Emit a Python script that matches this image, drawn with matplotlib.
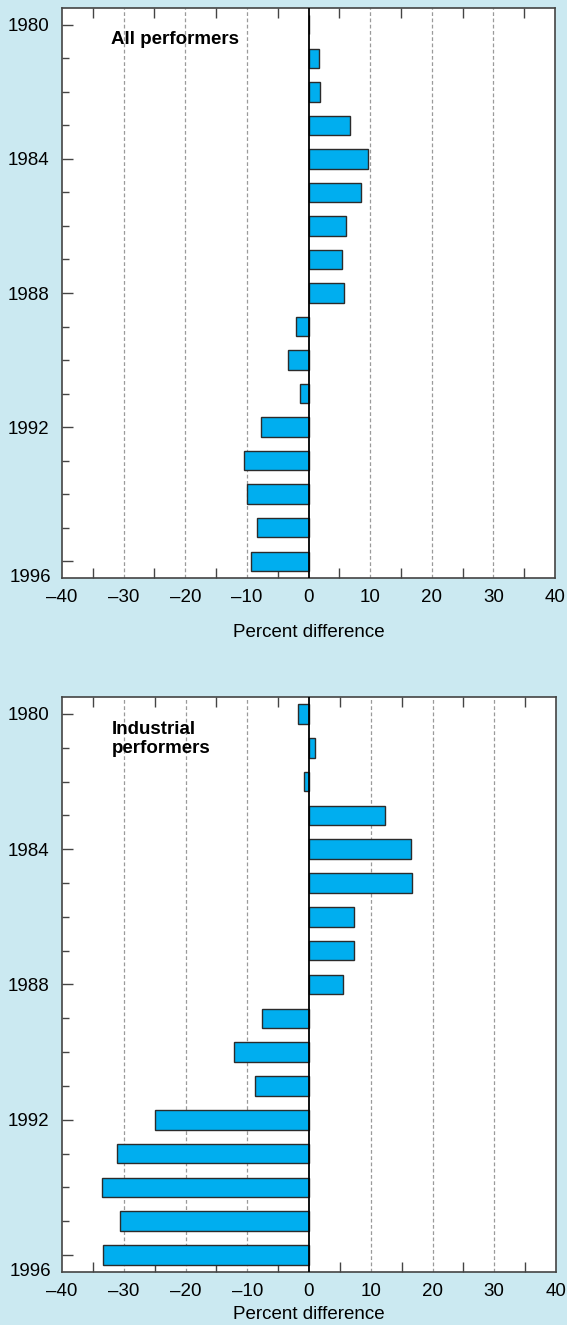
import matplotlib
matplotlib.use('Agg')
import matplotlib.pyplot as plt
from matplotlib.ticker import FixedLocator

# ---- data ----
years = list(range(1980, 1997))
all_performers = [0.1, 1.7, 1.9, 6.8, 9.7, 8.6, 6.1, 5.5, 5.7,
                  -2.0, -3.4, -1.4, -7.7, -10.5, -10.0, -8.3, -9.3]
industrial_performers = [-1.8, 0.9, -0.8, 12.3, 16.5, 16.7, 7.3, 7.3, 5.5,
                         -7.6, -12.1, -8.8, -24.9, -31.1, -33.6, -30.6, -33.3]
x_ticks = [-40, -30, -20, -10, 0, 10, 20, 30, 40]
x_tick_labels = ['\u201340', '\u201330', '\u201320', '\u201310', '0', '10', '20', '30', '40']
x_minor = [-35, -25, -15, -5, 5, 15, 25, 35]
grid_x = [-30, -20, -10, 10, 20, 30]
y_tick_years = [1980, 1984, 1988, 1992, 1996]
y_tick_labels = ['1980', '1984', '1988', '1992', '']
panel_titles = ['All performers', 'Industrial\nperformers']
x_label = 'Percent difference'

plt.rcParams['font.family'] = ['Liberation Sans', 'DejaVu Sans']

BG = '#cbe9f1'
BAR = '#00aeef'
EDGE = '#2b2b2b'
SPINE = '#444444'
FS = 13.5

W, H = 567, 1325
fig = plt.figure(figsize=(W / 100, H / 100), dpi=100, facecolor=BG)

panels = [
    (all_performers, [62, 8, 555, 578], panel_titles[0], 13),
    (industrial_performers, [62, 697, 556, 1272], panel_titles[1], 4),
]

for values, (l, t, r, b), title, lpad in panels:
    ax = fig.add_axes([l / W, 1 - b / H, (r - l) / W, (b - t) / H])
    ax.set_facecolor('white')
    ax.set_xlim(-40, 40)
    ax.set_ylim(1996.5, 1979.5)

    for gx in grid_x:
        ax.axvline(gx, color='#9a9a9a', lw=0.9, ls=(0, (3, 2)), zorder=1)

    ax.barh(years, values, height=0.58, color=BAR, edgecolor=EDGE,
            linewidth=1.0, zorder=3)
    ax.axvline(0, color='black', lw=1.3, zorder=4)

    # x ticks
    ax.xaxis.set_major_locator(FixedLocator(x_ticks))
    ax.set_xticklabels(x_tick_labels)
    ax.xaxis.set_minor_locator(FixedLocator(x_minor))
    ax.tick_params(axis='x', which='major', length=0, labelsize=FS, pad=8,
                   top=True, bottom=True)
    ax.tick_params(axis='x', which='minor', direction='in', length=7,
                   width=1.0, color=SPINE, top=True, bottom=True)

    # y ticks
    ax.yaxis.set_major_locator(FixedLocator(y_tick_years))
    ax.set_yticklabels(y_tick_labels)
    ax.yaxis.set_minor_locator(FixedLocator(years))
    ax.tick_params(axis='y', which='major', direction='in', length=8,
                   width=1.0, color=SPINE, labelsize=FS, pad=9)
    ax.tick_params(axis='y', which='minor', direction='in', length=5,
                   width=1.0, color=SPINE)
    ax.text(-0.022, 0.0, '1996', transform=ax.transAxes, ha='right',
            va='center', fontsize=FS)

    for s in ax.spines.values():
        s.set_color(SPINE)
        s.set_linewidth(1.2)

    ax.set_xlabel(x_label, fontsize=FS, labelpad=lpad)
    ax.text(-32, 1980.2, title, fontsize=FS, fontweight='bold',
            ha='left', va='top', linespacing=1.2, zorder=5)

fig.savefig('out.png', dpi=100, facecolor=BG)
